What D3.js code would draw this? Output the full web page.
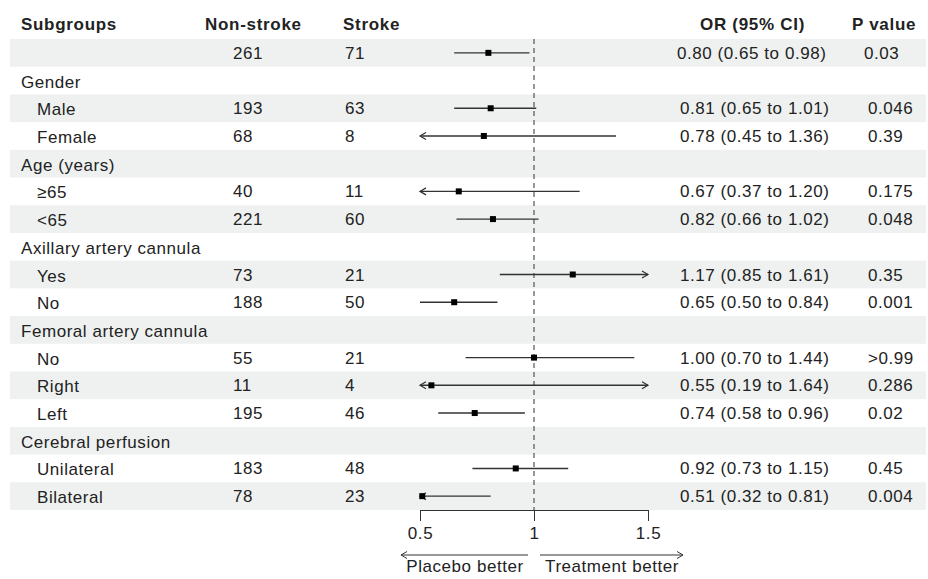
<!DOCTYPE html>
<html>
<head>
<meta charset="utf-8">
<script src="https://cdn.jsdelivr.net/npm/d3@7"></script>
<style>
  body { margin: 0; background: #fff; }
  svg text { font-family: "Liberation Sans", Arial, sans-serif; font-size: 17px; letter-spacing: 0.55px; fill: #222; }
  svg .head { font-weight: bold; letter-spacing: 0.7px; }
</style>
</head>
<body>
<svg id="chart" width="928" height="579"></svg>
<script>
"use strict"

// table rows, top to bottom ("" = overall row)
var labels = ["", "Gender", "Male", "Female", "Age (years)", "\u226565", "<65",
  "Axillary artery cannula", "Yes", "No", "Femoral artery cannula", "No", "Right", "Left",
  "Cerebral perfusion", "Unilateral", "Bilateral"];
var isGroup = [false, true, false, false, true, false, false, true, false, false, true, false, false, false, true, false, false];
var nonStroke = [261, null, 193, 68, null, 40, 221, null, 73, 188, null, 55, 11, 195, null, 183, 78];
var strokeN = [71, null, 63, 8, null, 11, 60, null, 21, 50, null, 21, 4, 46, null, 48, 23];
var orVal = [0.80, null, 0.81, 0.78, null, 0.67, 0.82, null, 1.17, 0.65, null, 1.00, 0.55, 0.74, null, 0.92, 0.51];
var ciLow = [0.65, null, 0.65, 0.45, null, 0.37, 0.66, null, 0.85, 0.50, null, 0.70, 0.19, 0.58, null, 0.73, 0.32];
var ciHigh = [0.98, null, 1.01, 1.36, null, 1.20, 1.02, null, 1.61, 0.84, null, 1.44, 1.64, 0.96, null, 1.15, 0.81];
var pText = ["0.03", "", "0.046", "0.39", "", "0.175", "0.048", "", "0.35", "0.001", "", ">0.99", "0.286", "0.02", "", "0.45", "0.004"];

var xTicks = [0.5, 1, 1.5];
var xDomain = [0.5, 1.5];

var svg = d3.select("#chart");
var ink = "#333";

var x = d3.scaleLinear().domain(xDomain).range([420, 648]);
var y = d3.scaleBand().domain(d3.range(labels.length)).range([39, 510]);
var step = y.bandwidth();
function mid(i) { return y(i) + step / 2; }

var rows = labels.map(function(d, i) {
  return {i: i, label: d, group: isGroup[i], n0: nonStroke[i], n1: strokeN[i],
    or: orVal[i], lo: ciLow[i], hi: ciHigh[i], p: pText[i]};
});

// alternating bands, starting with the overall row
svg.append("g").selectAll("rect")
  .data(rows.filter(function(d) { return d.i % 2 === 0; }))
  .join("rect")
  .attr("x", 10).attr("width", 916)
  .attr("y", function(d) { return y(d.i); })
  .attr("height", step)
  .attr("fill", "#eef1f0");

// header
var head = svg.append("g");
[["Subgroups", 21], ["Non-stroke", 205], ["Stroke", 343], ["OR (95% CI)", 700], ["P value", 852]].forEach(function(h) {
  head.append("text").attr("class", "head").attr("x", h[1]).attr("y", 30).text(h[0]);
});

// table text
var fmt = d3.format(".2f");
var body = svg.append("g");
var rowG = body.selectAll("g").data(rows).join("g")
  .attr("transform", function(d) { return "translate(0," + (mid(d.i) + 6) + ")"; });

rowG.append("text").attr("x", function(d) { return d.group ? 21 : 37; }).attr("y", 1)
  .text(function(d) { return d.label; });
rowG.filter(function(d) { return d.n0 != null; }).each(function(d) {
  var g = d3.select(this);
  g.append("text").attr("x", 233).text(d.n0);
  g.append("text").attr("x", 345).text(d.n1);
  g.append("text").attr("x", d.i === 0 ? 677 : 680).text(fmt(d.or) + " (" + fmt(d.lo) + " to " + fmt(d.hi) + ")");
  g.append("text").attr("x", d.i === 0 ? 864 : 868).text(d.p);
});

// reference line at OR = 1
svg.append("line")
  .attr("x1", x(1)).attr("x2", x(1))
  .attr("y1", y(0)).attr("y2", y.range()[1])
  .attr("stroke", ink).attr("stroke-width", 1).attr("stroke-dasharray", "5,4");

// confidence intervals
var plot = svg.append("g");
var est = rows.filter(function(d) { return d.or != null; });
var lo0 = xDomain[0], hi0 = xDomain[1];

plot.selectAll("line.ci").data(est).join("line")
  .attr("class", "ci")
  .attr("x1", function(d) { return x(Math.max(d.lo, lo0)); })
  .attr("x2", function(d) { return x(Math.min(d.hi, hi0)); })
  .attr("y1", function(d) { return mid(d.i); })
  .attr("y2", function(d) { return mid(d.i); })
  .attr("stroke", ink).attr("stroke-width", 1.4);

function chevron(px, py, dir) {
  return "M" + (px - dir * 6) + "," + (py - 3.5) + "L" + px + "," + py + "L" + (px - dir * 6) + "," + (py + 3.5);
}

plot.selectAll("path.left").data(est.filter(function(d) { return d.lo < lo0; })).join("path")
  .attr("d", function(d) { return chevron(x(lo0), mid(d.i), -1); })
  .attr("fill", "none").attr("stroke", ink).attr("stroke-width", 1.2);
plot.selectAll("path.right").data(est.filter(function(d) { return d.hi > hi0; })).join("path")
  .attr("d", function(d) { return chevron(x(hi0), mid(d.i), 1); })
  .attr("fill", "none").attr("stroke", ink).attr("stroke-width", 1.2);

plot.selectAll("rect").data(est).join("rect")
  .attr("x", function(d) { return x(d.or) - 3; })
  .attr("y", function(d) { return mid(d.i) - 3; })
  .attr("width", 6).attr("height", 6)
  .attr("fill", "#000");

// x axis
var axis = svg.append("g")
  .attr("transform", "translate(0," + y.range()[1] + ")")
  .call(d3.axisBottom(x).tickValues(xTicks).tickFormat(d3.format("~g")).tickSize(11).tickSizeOuter(0).tickPadding(6));
axis.select(".domain").attr("stroke", ink);
axis.selectAll(".tick line").attr("stroke", ink);
axis.selectAll(".tick text").attr("fill", "#222").style("font-size", "17px").attr("font-family", null);

// direction arrows
var dirY = 555;
function arrowLine(xa, xb, dir) {
  svg.append("line").attr("x1", xa).attr("x2", xb).attr("y1", dirY).attr("y2", dirY)
    .attr("stroke", ink).attr("stroke-width", 1);
  var tip = dir < 0 ? xa : xb;
  svg.append("path").attr("d", chevron(tip, dirY, dir))
    .attr("fill", "none").attr("stroke", ink).attr("stroke-width", 1);
}
arrowLine(401, 528, -1);
arrowLine(540, 683, 1);
svg.append("text").attr("x", 465).attr("y", 572).attr("text-anchor", "middle").text("Placebo better");
svg.append("text").attr("x", 612).attr("y", 572).attr("text-anchor", "middle").text("Treatment better");
</script>
</body>
</html>
